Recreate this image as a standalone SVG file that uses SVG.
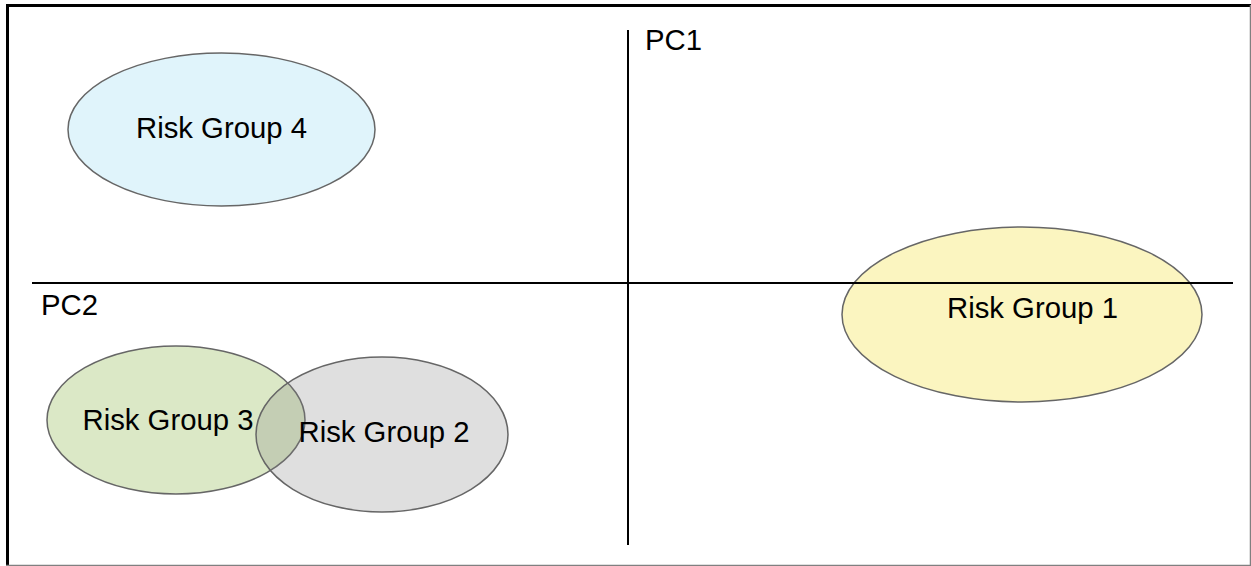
<svg xmlns="http://www.w3.org/2000/svg" width="1251" height="566" viewBox="0 0 1251 566">
  <style>
    .grp { stroke: #666666; stroke-width: 1.5; }
    .label { font-family: "Liberation Sans", Arial, sans-serif; font-size: 29.3px; fill: #000000; }
    .axis { stroke: #000000; stroke-width: 2; fill: none; }
  </style>
  <rect x="0" y="0" width="1251" height="566" fill="#ffffff"/>
  <!-- frame -->
  <g id="frame">
    <line x1="7.5" y1="4" x2="7.5" y2="566" stroke="#000000" stroke-width="3"/>
    <line x1="6" y1="5.5" x2="1251" y2="5.5" stroke="#000000" stroke-width="3"/>
    <line x1="1250.5" y1="5" x2="1250.5" y2="566" stroke="#808080" stroke-width="1.5"/>
    <line x1="6" y1="565.5" x2="1251" y2="565.5" stroke="#808080" stroke-width="1.5"/>
  </g>

  <g id="risk-group-4">
    <ellipse class="grp" cx="221.5" cy="129.5" rx="153.5" ry="76.5" fill="#e0f4fb"/>
    <text class="label" x="221.5" y="138" text-anchor="middle">Risk Group 4</text>
  </g>

  <g id="risk-group-3">
    <ellipse class="grp" cx="176" cy="420" rx="129" ry="74" fill="#dbe8c6"/>
    <text class="label" x="168" y="430" text-anchor="middle">Risk Group 3</text>
  </g>

  <g id="risk-group-2">
    <ellipse class="grp" cx="382" cy="434.5" rx="126" ry="77.5" fill="#808080" fill-opacity="0.25"/>
    <text class="label" x="384" y="442" text-anchor="middle">Risk Group 2</text>
  </g>

  <g id="risk-group-1">
    <ellipse class="grp" cx="1022" cy="314.5" rx="180" ry="87.5" fill="#fbf5c0"/>
    <text class="label" x="1032.5" y="318" text-anchor="middle">Risk Group 1</text>
  </g>

  <!-- principal component axes -->
  <g id="axes">
    <line class="axis" x1="32" y1="283" x2="1233" y2="283"/>
    <line class="axis" x1="628" y1="30" x2="628" y2="545"/>
  </g>

  <g id="pc1">
    <text class="label" x="645" y="50">PC1</text>
  </g>
  <g id="pc2">
    <text class="label" x="41" y="315">PC2</text>
  </g>
</svg>
